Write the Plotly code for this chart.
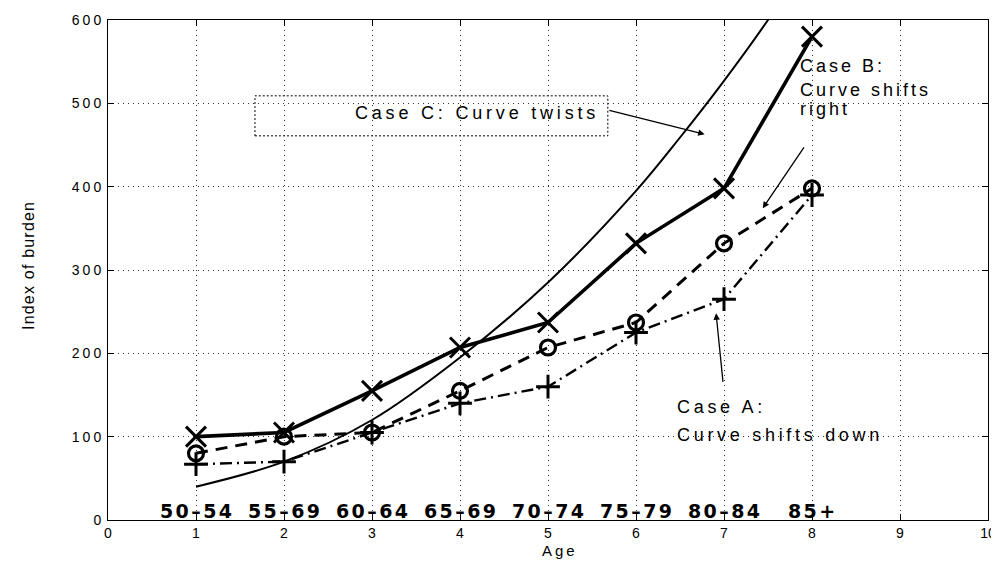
import plotly.graph_objects as go

ages = [1, 2, 3, 4, 5, 6, 7, 8]
age_groups = ["50–54", "55–69", "60–64", "65–69", "70–74", "75–79", "80–84", "85+"]

case_b = [100, 105, 155, 207, 237, 332, 398, 580]       # shifts right (x markers)
base = [80, 100, 105, 155, 207, 237, 332, 398]          # baseline (o markers, dashed)
case_a = [67, 70, 105, 140, 160, 225, 265, 390]         # shifts down (+ markers, dash-dot)
case_c_x = [1, 2, 3, 4, 5, 6, 6.5, 7, 7.5, 8]
case_c = [40, 70, 120, 195, 285, 395, 459, 527, 600, 680]  # twists (smooth curve)

x_ticks = [0, 1, 2, 3, 4, 5, 6, 7, 8, 9, 10]
y_ticks = [0, 100, 200, 300, 400, 500, 600]

FONT = "Liberation Sans, Arial, Helvetica, sans-serif"
BOLD_FONT = "DejaVu Sans, Liberation Sans, Arial, sans-serif"

# figure geometry (page body has an 8px margin)
W, H = 991, 555
ML, MT, PW, PH = 100, 12, 880, 500


def spaced(t, px=3.0):
    return f'<span style="letter-spacing:{px}px">{t}</span>'


def py(pix):
    """reference pixel y -> data y"""
    return (520 - pix) / 0.835


fig = go.Figure()

fig.add_trace(go.Scatter(x=case_c_x, y=case_c, mode="lines",
                         line=dict(color="black", width=2, shape="spline"),
                         showlegend=False))
fig.add_trace(go.Scatter(x=ages, y=case_a, mode="lines+markers",
                         line=dict(color="black", width=2.4, dash="12px,5px,2px,5px"),
                         marker=dict(symbol="cross-thin-open", size=17,
                                     line=dict(color="black", width=3)),
                         showlegend=False))
fig.add_trace(go.Scatter(x=ages, y=base, mode="lines+markers",
                         line=dict(color="black", width=3, dash="12px,8px"),
                         marker=dict(symbol="circle-open", size=15, color="black",
                                     line=dict(color="black", width=3.2)),
                         showlegend=False))
fig.add_trace(go.Scatter(x=ages, y=case_b, mode="lines+markers",
                         line=dict(color="black", width=3.6),
                         marker=dict(symbol="x-thin-open", size=20,
                                     line=dict(color="black", width=3)),
                         showlegend=False))

annotations = []
for a, g in zip(ages, age_groups):
    annotations.append(dict(x=a, y=0, xref="x", yref="y", text=f"<b>{spaced(g, 2.4)}</b>",
                            showarrow=False, yanchor="bottom", yshift=-4, xshift=1,
                            font=dict(family=BOLD_FONT, size=19, color="black")))

# Case C box with arrow
fig.add_shape(type="rect", xref="x", yref="y", x0=1.67, x1=5.68, y0=461, y1=509,
              line=dict(color="black", width=1, dash="2px,2px"), fillcolor="white", layer="below")
annotations.append(dict(x=5.6, y=489, xref="x", yref="y", text=spaced("Case C: Curve twists", 3.8),
                        showarrow=False, xanchor="right", yanchor="middle",
                        font=dict(family=FONT, size=18, color="black")))
annotations.append(dict(x=6.78, y=463, xref="x", yref="y", ax=5.68, ay=492,
                        axref="x", ayref="y", text="", showarrow=True,
                        arrowhead=2, arrowsize=1, arrowwidth=1.3, arrowcolor="black"))

# Case B
for txt, yy in [("Case B:", 65), ("Curve shifts", 89), ("right", 108)]:
    annotations.append(dict(x=7.84, y=py(yy), xref="x", yref="y",
                            text=spaced(txt, 3), showarrow=False,
                            xanchor="left", yanchor="middle",
                            font=dict(family=FONT, size=18, color="black")))
annotations.append(dict(x=7.44, y=374, xref="x", yref="y", ax=7.92, ay=449,
                        axref="x", ayref="y", text="", showarrow=True,
                        arrowhead=2, arrowsize=1, arrowwidth=1.3, arrowcolor="black"))

# Case A
for txt, yy in [("Case A:", 407), ("Curve shifts down", 435)]:
    annotations.append(dict(x=6.44, y=py(yy), xref="x", yref="y",
                            text=spaced(txt, 3.7), showarrow=False,
                            xanchor="left", yanchor="middle",
                            font=dict(family=FONT, size=18, color="black")))
annotations.append(dict(x=6.91, y=248, xref="x", yref="y", ax=6.99, ay=164,
                        axref="x", ayref="y", text="", showarrow=True,
                        arrowhead=2, arrowsize=1, arrowwidth=1.3, arrowcolor="black"))

# axis titles (paper coordinates)
annotations.append(dict(x=(20 - ML) / PW, y=(MT + PH - 258) / PH, xref="paper", yref="paper",
                        text=spaced("Index of burden", 1.2), showarrow=False, textangle=-90,
                        xanchor="center", yanchor="middle",
                        font=dict(family=FONT, size=16)))
annotations.append(dict(x=(552 - ML) / PW, y=(MT + PH - 542) / PH, xref="paper", yref="paper",
                        text=spaced("Age", 3), showarrow=False,
                        xanchor="center", yanchor="middle",
                        font=dict(family=FONT, size=15)))

fig.update_layout(
    width=W, height=H,
    margin=dict(l=ML, r=W - ML - PW, t=MT, b=H - MT - PH, autoexpand=False),
    plot_bgcolor="white", paper_bgcolor="white",
    font=dict(family=FONT, size=13, color="black"),
    annotations=annotations,
    xaxis=dict(range=[0, 10], tickvals=x_ticks, ticktext=[str(v) for v in x_ticks],
               showgrid=True, gridcolor="#333", griddash="1px,4px", gridwidth=1,
               showline=True, linecolor="black", linewidth=1,
               mirror="ticks", ticks="inside", ticklen=6, tickcolor="black",
               zeroline=False, tickfont=dict(size=14), automargin=False),
    yaxis=dict(range=[0, 600], tickvals=y_ticks, ticktext=[spaced(str(v), 3) for v in y_ticks],
               showgrid=True, gridcolor="#333", griddash="1px,4px", gridwidth=1,
               showline=True, linecolor="black", linewidth=1,
               mirror="ticks", ticks="inside", ticklen=6, tickcolor="black",
               zeroline=False, tickfont=dict(size=14), automargin=False),
)

fig.write_html("out.html")
